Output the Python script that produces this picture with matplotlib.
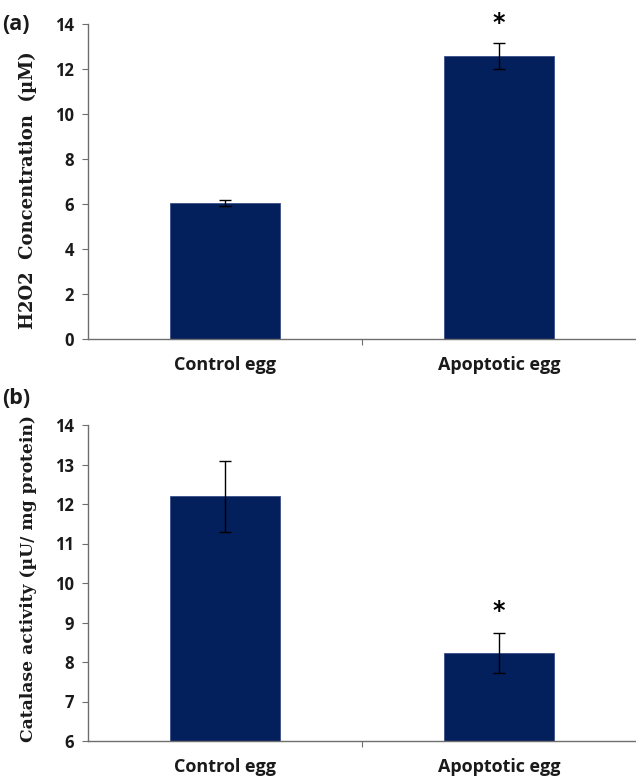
import matplotlib
matplotlib.use("Agg")
import matplotlib.pyplot as plt

categories = ["Control egg", "Apoptotic egg"]
h2o2_values = [6.04, 12.58]
h2o2_errors = [0.12, 0.58]
catalase_values = [12.2, 8.23]
catalase_errors = [0.9, 0.5]
h2o2_ticks = [0, 2, 4, 6, 8, 10, 12, 14]
catalase_ticks = [6, 7, 8, 9, 10, 11, 12, 13, 14]
star_a = (1, 14.05)
star_b = (1, 9.3)

bar_color = "#031f5c"
spine_color = "#6e6e6e"
tick_font = "Open Sans"
label_font = "DejaVu Serif"

fig = plt.figure(figsize=(6.36, 7.81), dpi=100)
ax_a = fig.add_axes([88/636, 1-339/781, 1-88/636, (339-24)/781])
ax_b = fig.add_axes([88/636, 1-741/781, 1-88/636, (741-425)/781])

def style(ax, values, errors, ticks, ylim, ylabel, star, lsize):
    x = list(range(len(categories)))
    ax.bar(x, values, width=0.4, color=bar_color, edgecolor="#3a4f86", linewidth=0.6, zorder=2)
    ax.errorbar(x, values, yerr=errors, fmt="none", ecolor="black", elinewidth=1.0,
                capsize=4, capthick=1.0, zorder=3)
    ax.set_xlim(-0.5, 1.5)
    ax.set_ylim(*ylim)
    ax.set_yticks(ticks)
    ax.set_yticklabels([str(t) for t in ticks], fontsize=12, fontweight="bold",
                       family=tick_font, color="#1a1a1a")
    ax.set_xticks([0.5])
    ax.set_xticklabels([""])
    ax.set_xticks(x, minor=True)
    ax.set_xticklabels(categories, minor=True, fontsize=13, fontweight="bold",
                       family=tick_font, color="#1a1a1a")
    ax.tick_params(axis="x", which="minor", length=0, pad=12)
    ax.tick_params(axis="x", which="major", length=4, direction="out", color=spine_color)
    ax.tick_params(axis="y", length=4, direction="out", color=spine_color, pad=6)
    for s in ["top", "right"]:
        ax.spines[s].set_visible(False)
    for s in ["left", "bottom"]:
        ax.spines[s].set_color(spine_color)
        ax.spines[s].set_linewidth(1.0)
    ax.set_ylabel(ylabel, fontsize=lsize, fontweight="bold", family=label_font, color="#1a1a1a")
    ax.text(star[0], star[1], "*", ha="center", va="center", fontsize=17,
            fontweight="bold", color="black", family="DejaVu Sans")

style(ax_a, h2o2_values, h2o2_errors, h2o2_ticks, (0, 14),
      "H2O2  Concentration  (µM)", star_a, 13)
style(ax_b, catalase_values, catalase_errors, catalase_ticks, (6, 14),
      "Catalase activity (µU/ mg protein)", star_b, 12.3)

ax_a.yaxis.set_label_coords(-0.093, 0.473)
ax_b.yaxis.set_label_coords(-0.093, 0.515)

fig.text(2/636, 1-24/781, "(a)", fontsize=15.5, fontweight="bold", family=tick_font,
         ha="left", va="center", color="#1a1a1a")
fig.text(2/636, 1-398/781, "(b)", fontsize=15.5, fontweight="bold", family=tick_font,
         ha="left", va="center", color="#1a1a1a")

fig.savefig("out.png", dpi=100)
